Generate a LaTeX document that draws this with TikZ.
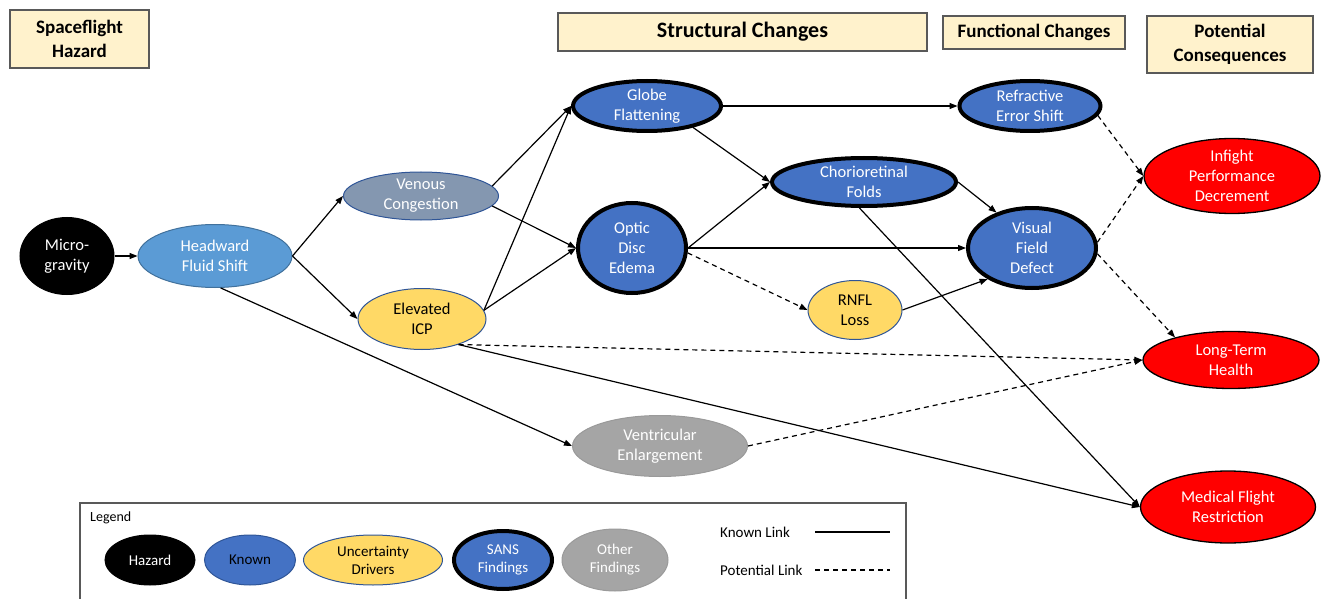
\documentclass[tikz,border=0pt]{standalone}
\usepackage{fontspec}
\setmainfont{Carlito}
\usetikzlibrary{shapes.geometric,arrows.meta}
\definecolor{hdrfill}{HTML}{FFF2CC}
\definecolor{hdrline}{HTML}{595959}
\definecolor{knownblue}{HTML}{4472C4}
\definecolor{knownline}{HTML}{2F5597}
\definecolor{lightblue}{HTML}{5B9BD5}
\definecolor{lightblueline}{HTML}{41719C}
\definecolor{venous}{HTML}{8497B0}
\definecolor{uncert}{HTML}{FFD966}
\definecolor{other}{HTML}{A5A5A5}
\definecolor{otherline}{HTML}{9A9A9A}
\definecolor{conseq}{HTML}{FF0000}
\tikzset{
  ell/.style={ellipse, inner sep=0pt, align=center, font=\fontsize{16.5}{20}\selectfont, line width=1pt},
  sz/.style 2 args={minimum width=#1pt, minimum height=#2pt},
  hazard/.style={ell, fill=black, draw=black, text=white},
  fluidshift/.style={ell, fill=lightblue, draw=lightblueline, text=white},
  venousnode/.style={ell, fill=venous, draw=knownline, text=white},
  known/.style={ell, fill=knownblue, draw=knownline, text=black},
  uncertainty/.style={ell, fill=uncert, draw=knownline, text=black},
  sans/.style={ell, fill=knownblue, draw=black, line width=4pt, text=white},
  otherf/.style={ell, fill=other, draw=otherline, text=white},
  conseqnode/.style={ell, fill=conseq, draw=black, line width=1.3pt, text=white},
  hdr/.style={draw=hdrline, fill=hdrfill, line width=1.2pt, inner sep=0pt, align=center, font=\bfseries\fontsize{19}{24}\selectfont},
  link/.style={-{Triangle[length=8pt,width=6pt]}, line width=1.2pt},
  plink/.style={link, dash pattern=on 5pt off 4pt},
  legtext/.style={inner sep=0pt, anchor=west, font=\fontsize{15}{18}\selectfont}
}
\begin{document}
\begin{tikzpicture}[x=1pt,y=-1pt]
\useasboundingbox (0,0) rectangle (1323,599);

% headers
\node[hdr, minimum width=139pt, minimum height=58pt] (h1) at (79.5,39) {Spaceflight\\Hazard};
\node[hdr, minimum width=369pt, minimum height=38pt, font=\bfseries\fontsize{22}{26}\selectfont] (h2) at (742.5,32) {Structural Changes};
\node[hdr, minimum width=182pt, minimum height=33pt] (h3) at (1034,32.5) {Functional Changes};
\node[hdr, minimum width=166pt, minimum height=57pt] (h4) at (1230,44.5) {Potential\\Consequences};

% nodes
\node[hazard, sz={94}{77}] (mg) at (67,256) {Micro-\\gravity};
\node[fluidshift, sz={154}{63}] (hw) at (215,256) {Headward\\Fluid Shift};
\node[venousnode, sz={155}{48}] (ven) at (421,196) {Venous\\Congestion};
\node[uncertainty, sz={128}{61}] (icp) at (422,319) {Elevated\\ICP};
\node[sans, sz={148}{50}] (gf) at (647,106) {Globe\\Flattening};
\node[sans, sz={108}{90}] (ode) at (632,248) {Optic\\Disc\\Edema};
\node[sans, sz={184}{48}] (cf) at (864,182) {Chorioretinal\\Folds};
\node[sans, sz={141}{50}] (res) at (1030,106) {Refractive\\Error Shift};
\node[sans, sz={128}{80}] (vfd) at (1032,248) {Visual\\Field\\Defect};
\node[uncertainty, sz={94}{59}] (rnfl) at (855,310) {RNFL\\Loss};
\node[otherf, sz={175}{61}] (ve) at (660,446) {Ventricular\\Enlargement};
\node[conseqnode, sz={176}{75}] (ipd) at (1232,176) {Infight\\Performance\\Decrement};
\node[conseqnode, sz={176}{57}] (lth) at (1231,360) {Long-Term\\Health};
\node[conseqnode, sz={175}{72}] (mfr) at (1228,507) {Medical Flight\\Restriction};

% known links
\draw[link] (mg.east) -- (hw.west);
\draw[link] (hw.east) -- (ven.west);
\draw[link] (hw.east) -- (icp.west);
\draw[link] (hw.-80) -- (ve.west);
\draw[link] (ven.8) -- (gf.west);
\draw[link] (ven.-8) -- (ode.west);
\draw[link] (icp.8) -- (gf.west);
\draw[link] (icp.8) -- (ode.west);
\draw[link] (icp.-35) -- (mfr.west);
\draw[link] (gf.east) -- (res.west);
\draw[link] (gf.-25) -- (cf.west);
\draw[link] (ode.east) -- (cf.west);
\draw[link] (ode.east) -- (vfd.west);
\draw[link] (cf.east) -- (vfd.135);
\draw[link] (cf.-100) -- (mfr.west);
\draw[link] (rnfl.east) -- (vfd.215);

% potential links
\draw[plink] (icp.-35) -- (lth.west);
\draw[plink] (ode.-5) -- (rnfl.west);
\draw[plink] (res.-8) -- (ipd.west);
\draw[plink] (vfd.5) -- (ipd.west);
\draw[plink] (vfd.-5) -- (lth.158);
\draw[plink] (ve.east) -- (lth.west);

% legend
\draw[hdrline, line width=1.2pt] (80,610) -- (80,503) -- (906,503) -- (906,610);
\node[legtext, font=\fontsize{14}{17}\selectfont] (legtitle) at (90,518) {Legend};
\node[hazard, sz={90}{50}, font=\fontsize{15}{18}\selectfont] (lg1) at (150,560) {Hazard};
\node[known, sz={91}{50}, font=\fontsize{15}{18}\selectfont] (lg2) at (250,560) {Known};
\node[uncertainty, sz={139}{50}, font=\fontsize{15}{18}\selectfont] (lg3) at (373,560) {Uncertainty\\Drivers};
\node[sans, sz={98}{58}, font=\fontsize{15}{18}\selectfont] (lg4) at (503,560) {SANS\\Findings};
\node[otherf, sz={106}{62}, font=\fontsize{15}{18}\selectfont] (lg5) at (615,560) {Other\\Findings};
\node[legtext] (kl) at (720,532) {Known Link};
\node[legtext] (pl) at (720,570) {Potential Link};
\coordinate (kla) at (815,532);
\coordinate (klb) at (890,532);
\coordinate (pla) at (815,570);
\coordinate (plb) at (890,570);
\draw[line width=1.3pt] (kla) -- (klb);
\draw[line width=1.3pt, dash pattern=on 5pt off 4pt] (pla) -- (plb);
\end{tikzpicture}
\end{document}
